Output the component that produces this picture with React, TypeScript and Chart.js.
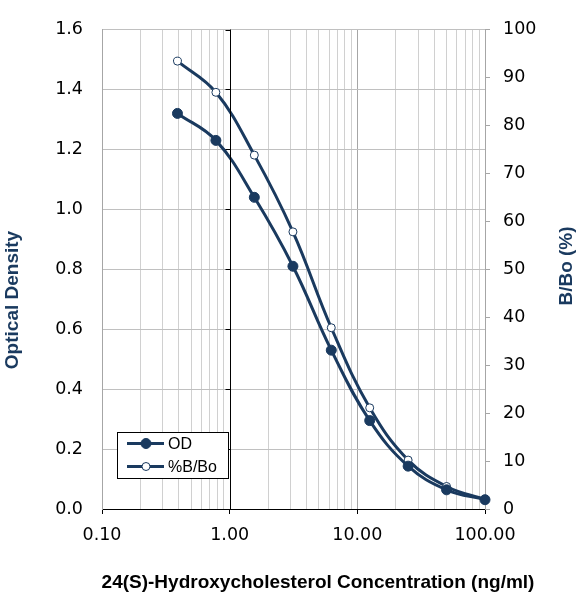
import { useEffect, useRef } from 'react';
import { Chart, registerables, Plugin } from 'chart.js';

Chart.register(...registerables);

const concentrations = [0.39, 0.78, 1.56, 3.13, 6.25, 12.5, 25, 50, 100];
const odValues = [1.32, 1.23, 1.04, 0.81, 0.53, 0.295, 0.143, 0.064, 0.031];
const bboValues = [93.4, 86.9, 73.8, 57.8, 37.8, 21.1, 10.2, 4.7, 2.0];
const decadeTicks = [0.1, 1, 10, 100];

const navy = '#1a3a5f';
const tickFont = { family: 'Verdana, "DejaVu Sans", sans-serif', size: 17.5 };
const titleFont = 'bold 19px "Liberation Sans", Arial, sans-serif';

const isDecade = (v: number) => decadeTicks.some(d => Math.abs(d - v) < 1e-9);

// minor log gridline positions: 1..9 per decade
const logGridValues: number[] = [];
for (let e = -1; e <= 1; e++) {
  for (let m = 1; m <= 9; m++) logGridValues.push(Number((m * Math.pow(10, e)).toFixed(4)));
}
logGridValues.push(100);

const overlay: Plugin = {
  id: 'overlay',
  afterDraw(chart) {
    const { ctx, chartArea, scales } = chart;
    const x = scales.x;
    const y = scales.y;
    ctx.save();

    // vertical axis crossing at x = 1
    const x1 = Math.round(x.getPixelForValue(1)) + 0.5;
    ctx.strokeStyle = '#000';
    ctx.lineWidth = 1;
    ctx.beginPath();
    ctx.moveTo(x1, chartArea.top);
    ctx.lineTo(x1, chartArea.bottom);
    y.ticks.forEach(t => {
      const py = Math.round(y.getPixelForValue(t.value)) + 0.5;
      ctx.moveTo(x1 - 5, py);
      ctx.lineTo(x1, py);
    });
    ctx.stroke();

    // legend
    const lx = 117.5, ly = 432.5, lw = 111, lh = 46;
    ctx.fillStyle = '#fff';
    ctx.fillRect(lx, ly, lw, lh);
    ctx.strokeStyle = '#000';
    ctx.strokeRect(lx, ly, lw, lh);
    const rows = [
      { label: 'OD', yPos: 443.5, fill: navy, r: 5 },
      { label: '%B/Bo', yPos: 466.5, fill: '#fff', r: 4 },
    ];
    rows.forEach(row => {
      ctx.strokeStyle = navy;
      ctx.lineWidth = 3;
      ctx.beginPath();
      ctx.moveTo(127, row.yPos);
      ctx.lineTo(164, row.yPos);
      ctx.stroke();
      ctx.beginPath();
      ctx.arc(146, row.yPos, row.r, 0, Math.PI * 2);
      ctx.fillStyle = row.fill;
      ctx.fill();
      ctx.lineWidth = 1;
      ctx.stroke();
      ctx.fillStyle = '#000';
      ctx.font = '16px "Liberation Sans", Arial, sans-serif';
      ctx.textAlign = 'left';
      ctx.textBaseline = 'middle';
      ctx.fillText(row.label, 168, row.yPos + 1);
    });

    // axis titles
    ctx.font = titleFont;
    ctx.textAlign = 'center';
    ctx.textBaseline = 'middle';
    ctx.fillStyle = '#000';
    ctx.fillText('24(S)-Hydroxycholesterol Concentration (ng/ml)', 318, 583);

    ctx.fillStyle = navy;
    ctx.save();
    ctx.translate(13, 300);
    ctx.rotate(-Math.PI / 2);
    ctx.fillText('Optical Density', 0, 0);
    ctx.restore();

    ctx.save();
    ctx.translate(567, 266);
    ctx.rotate(-Math.PI / 2);
    ctx.fillText('B/Bo (%)', 0, 0);
    ctx.restore();

    ctx.restore();
  },
};

export default function App() {
  const chartRef = useRef<HTMLCanvasElement>(null);
  const chartInstance = useRef<Chart | null>(null);

  useEffect(() => {
    document.body.style.margin = '0';
    if (!chartRef.current) return;
    if (chartInstance.current) chartInstance.current.destroy();
    const ctx = chartRef.current.getContext('2d');
    if (!ctx) return;

    chartInstance.current = new Chart(ctx, {
      type: 'line',
      data: {
        datasets: [
          {
            label: 'OD',
            data: concentrations.map((c, i) => ({ x: c, y: odValues[i] })),
            yAxisID: 'y',
            borderColor: navy,
            borderWidth: 3,
            pointRadius: 5,
            pointBackgroundColor: navy,
            pointBorderColor: navy,
            pointBorderWidth: 1,
            tension: 0.4,
            clip: false,
          },
          {
            label: '%B/Bo',
            data: concentrations.map((c, i) => ({ x: c, y: bboValues[i] })),
            yAxisID: 'y2',
            borderColor: navy,
            borderWidth: 3,
            pointRadius: 4,
            pointBackgroundColor: '#fff',
            pointBorderColor: navy,
            pointBorderWidth: 1,
            tension: 0.4,
            clip: false,
          },
        ],
      },
      options: {
        animation: false,
        responsive: true,
        maintainAspectRatio: false,
        events: [],
        layout: { padding: { top: 26, left: 0, right: 0, bottom: 0 } },
        plugins: {
          legend: { display: false },
          tooltip: { enabled: false },
        },
        scales: {
          x: {
            type: 'logarithmic',
            min: 0.1,
            max: 100,
            afterBuildTicks: scale => {
              scale.ticks = logGridValues.map(v => ({ value: v }));
            },
            afterFit: scale => {
              scale.height = 91;
            },
            ticks: {
              autoSkip: false,
              maxRotation: 0,
              padding: 11,
              color: '#000',
              font: tickFont,
              callback: v => (isDecade(Number(v)) ? Number(v).toFixed(2) : ''),
            },
            grid: {
              color: c => {
                const v = c.tick ? c.tick.value : 0;
                if (Math.abs(v - 1) < 1e-9) return 'rgba(0,0,0,0)';
                return isDecade(v) ? '#a6a6a6' : '#d0d0d0';
              },
              tickColor: c => (c.tick && isDecade(c.tick.value) ? '#000' : 'rgba(0,0,0,0)'),
              tickLength: 5,
            },
            border: { color: '#000', width: 1 },
          },
          y: {
            position: 'left',
            min: 0,
            max: 1.6,
            afterFit: scale => {
              scale.width = 102;
            },
            ticks: {
              stepSize: 0.2,
              padding: 19,
              color: '#000',
              font: tickFont,
              callback: v => Number(v).toFixed(1),
            },
            grid: { color: '#c0c0c0', drawTicks: false },
            border: { color: '#a6a6a6' },
          },
          y2: {
            position: 'right',
            min: 0,
            max: 100,
            afterFit: scale => {
              scale.width = 97;
            },
            ticks: {
              stepSize: 10,
              padding: 13,
              color: '#000',
              font: tickFont,
            },
            grid: { drawOnChartArea: false, tickColor: '#a6a6a6', tickLength: 5 },
            border: { color: '#a6a6a6' },
          },
        },
      },
      plugins: [overlay],
    });

    return () => {
      if (chartInstance.current) {
        chartInstance.current.destroy();
        chartInstance.current = null;
      }
    };
  }, []);

  return (
    <div style={{ width: 582, height: 600, position: 'relative' }}>
      <canvas ref={chartRef}></canvas>
    </div>
  );
}
